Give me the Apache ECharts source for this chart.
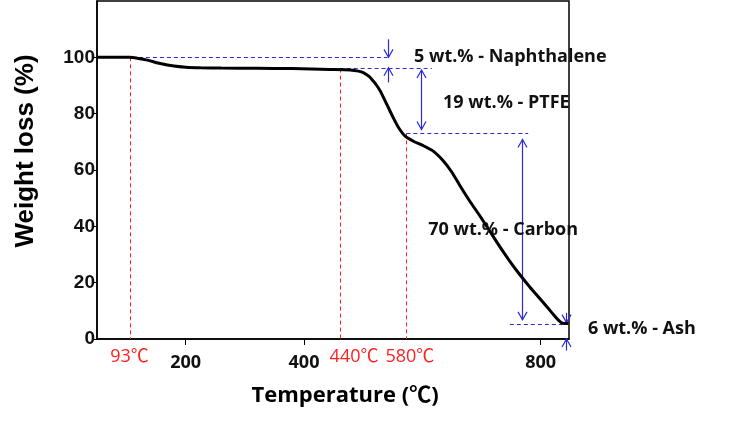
<!DOCTYPE html>
<html><head><meta charset="utf-8">
<script src="https://cdn.jsdelivr.net/npm/echarts@6/dist/echarts.min.js"></script>
<style>html,body{margin:0;padding:0;background:#fff}#c{width:736px;height:423px}</style>
</head><body><div id="c"></div>
<script>
// TGA curve
const tempC = [51, 80, 105, 120, 135, 157, 180, 200, 225, 260, 320, 380, 444, 478, 492, 501, 510, 517, 523, 529, 540, 551, 560, 571, 585, 602, 619, 636, 650, 664, 680, 698, 715, 731, 748, 765, 782, 799, 812, 822, 830, 837, 847];
const weightPct = [100, 100, 100, 99.6, 99.0, 97.8, 96.9, 96.5, 96.3, 96.2, 96.1, 96.0, 95.7, 95.5, 95.1, 94.5, 93.2, 91.6, 90.0, 88.0, 83.3, 78.5, 75.0, 72.0, 70.2, 68.6, 66.6, 63.1, 59.2, 54.3, 49.0, 43.5, 38.0, 32.8, 27.6, 22.8, 18.4, 14.3, 11.1, 8.6, 6.7, 5.6, 5.5];
const xTickValues = [200, 400, 800];
const yTickValues = [0, 20, 40, 60, 80, 100];
// red onset markers
const onsetT = [105, 461, 572.6];
const onsetTopW = [100, 96, 73];
const onsetLabels = ['93℃', '440℃', '580℃'];
const onsetLabelT = [105, 484.6, 579];
// blue guide lines
const guideT1 = [109, 330, 573, 748];
const guideT2 = [541, 616, 779, 847];
const guideW = [100, 96.3, 73.2, 5.5];
// arrows
const arrowT = [542, 542, 597.5, 768, 843, 843];
const arrowFromW = [106.4, 91.1, 95.5, 70.8, 9.3, -4.1];
const arrowToW = [100, 96.3, 74.4, 6.8, 5.8, 0];
const arrowBoth = [0, 0, 1, 1, 0, 0];
// annotations
const noteText = ['5 wt.% - Naphthalene', '19 wt.% - PTFE', '70 wt.% - Carbon', '6 wt.% - Ash'];
const noteT = [586, 635, 610, 880];
const noteW = [100, 84, 38.8, 3.6];

const chart = echarts.init(document.getElementById('c'));
const curve = tempC.map((t, i) => [t, weightPct[i]]);
const onsetRows = onsetT.map((t, i) => [t, onsetTopW[i]]);
const onsetLabelRows = onsetLabelT.map((t, i) => [t, 0, i]);
const guideRows = guideT1.map((t, i) => [t, guideT2[i], guideW[i]]);
const arrowRows = arrowT.map((t, i) => [t, arrowFromW[i], arrowToW[i], arrowBoth[i]]);
const noteRows = noteT.map((t, i) => [t, noteW[i], i]);
const CJK = "'Open Sans', 'Noto Sans CJK KR', sans-serif";
const BLUE = '#2b2bd6';
const RED = '#ff2020';
const crisp = v => Math.round(v) + 0.5;

chart.setOption({
  animation: false,
  grid: { left: 97, right: 167, top: 1, bottom: 84, show: true, borderColor: '#000', borderWidth: 1.5 },
  xAxis: {
    type: 'value', min: 50, max: 848,
    splitLine: { show: false },
    axisLine: { lineStyle: { color: '#000', width: 1.5 } },
    axisTick: { customValues: xTickValues, length: 6, lineStyle: { color: '#000' } },
    axisLabel: { customValues: xTickValues, color: '#111', fontSize: 18, fontWeight: 'bold', fontFamily: CJK, margin: 15 }
  },
  yAxis: {
    type: 'value', min: 0, max: 120,
    splitLine: { show: false },
    axisLine: { lineStyle: { color: '#000', width: 1.5 } },
    axisTick: { customValues: yTickValues, length: 5, lineStyle: { color: '#000' } },
    axisLabel: { customValues: yTickValues, color: '#111', fontSize: 19, fontWeight: 'bold', fontFamily: "'Liberation Sans', Arial, sans-serif", margin: 2 }
  },
  graphic: [
    { type: 'text', x: 345, y: 396, style: { text: 'Temperature (℃)', fill: '#000', font: 'bold 22px ' + CJK, align: 'center', verticalAlign: 'middle' } },
    { type: 'text', x: 26, y: 151, rotation: Math.PI / 2, style: { text: 'Weight loss (%)', fill: '#000', font: "bold 26px 'Liberation Sans', Arial, sans-serif", align: 'center', verticalAlign: 'middle' } }
  ],
  series: [
    {
      type: 'custom', clip: false, silent: true, z: 1, data: onsetRows,
      renderItem(p, api) {
        const a = api.coord([api.value(0), api.value(1)]);
        const b = api.coord([api.value(0), 0]);
        const x = crisp(a[0]);
        return { type: 'group', children: [{ type: 'line', shape: { x1: x, y1: a[1], x2: x, y2: b[1] }, style: { stroke: RED, lineWidth: 1, lineDash: [4, 3], opacity: 1 } }] };
      }
    },
    {
      type: 'custom', clip: false, silent: true, z: 1, data: guideRows,
      renderItem(p, api) {
        const a = api.coord([api.value(0), api.value(2)]);
        const b = api.coord([api.value(1), api.value(2)]);
        const y = crisp(a[1]);
        return { type: 'group', children: [{ type: 'line', shape: { x1: a[0], y1: y, x2: b[0], y2: y }, style: { stroke: BLUE, lineWidth: 1, lineDash: [4, 3] } }] };
      }
    },
    {
      type: 'custom', clip: false, silent: true, z: 2, data: arrowRows,
      renderItem(p, api) {
        const x = api.value(0);
        const p1 = api.coord([x, api.value(1)]);
        const p2 = api.coord([x, api.value(2)]);
        const cx = crisp(p1[0]);
        const children = [{ type: 'line', shape: { x1: cx, y1: p1[1], x2: cx, y2: p2[1] }, style: { stroke: BLUE, lineWidth: 1.2 } }];
        const head = (ty, dir) => children.push({ type: 'polyline', shape: { points: [[cx - 4.5, ty - dir * 8], [cx, ty], [cx + 4.5, ty - dir * 8]] }, style: { stroke: BLUE, fill: null, lineWidth: 1.2 } });
        const dir = p2[1] > p1[1] ? 1 : -1;
        head(p2[1], dir);
        if (api.value(3)) head(p1[1], -dir);
        return { type: 'group', children };
      }
    },
    {
      type: 'line', data: curve, smooth: 0.25, showSymbol: false, silent: true, z: 3,
      lineStyle: { color: '#000', width: 3 }
    },
    {
      type: 'custom', clip: false, silent: true, z: 4, data: onsetLabelRows,
      renderItem(p, api) {
        const a = api.coord([api.value(0), 0]);
        return { type: 'text', x: a[0], y: a[1] + 18, style: { text: onsetLabels[api.value(2)], fill: RED, font: '18px ' + CJK, align: 'center', verticalAlign: 'middle', backgroundColor: '#fff' } };
      }
    },
    {
      type: 'custom', clip: false, silent: true, z: 4, data: noteRows,
      renderItem(p, api) {
        const a = api.coord([api.value(0), api.value(1)]);
        return { type: 'text', x: a[0], y: a[1], style: { text: noteText[api.value(2)], fill: '#111', font: 'bold 18px ' + CJK, align: 'left', verticalAlign: 'middle' } };
      }
    }
  ]
});
</script>
</body></html>
